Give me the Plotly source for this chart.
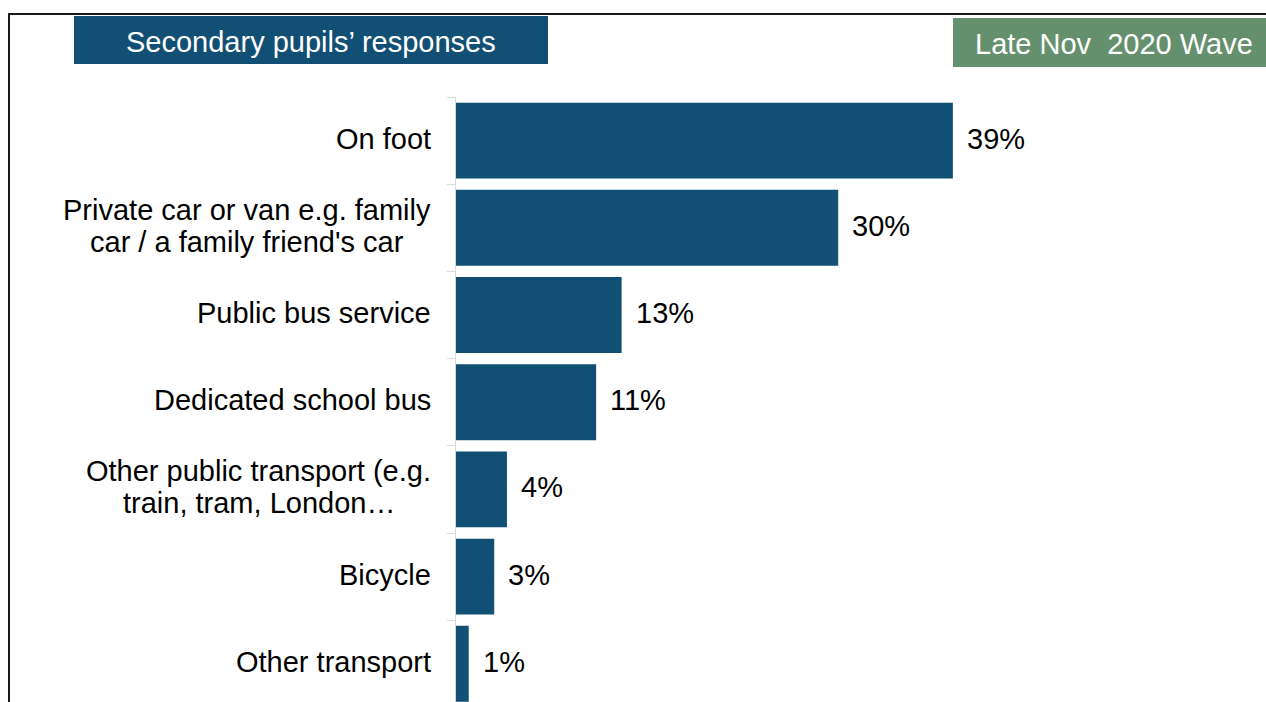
import plotly.graph_objects as go

# Survey data: how secondary pupils travel to school
categories = [
    "On foot",
    "Private car or van e.g. family\ncar / a family friend's car",
    "Public bus service",
    "Dedicated school bus",
    "Other public transport (e.g.\ntrain, tram, London…",
    "Bicycle",
    "Other transport",
]
values = [39, 30, 13, 11, 4, 3, 1]

panel_title = "Secondary pupils’ responses"
wave_label = "Late Nov\u00a0 2020 Wave"

BAR_BLUE = "#124F74"
WAVE_GREEN = "#65906E"
FONT = "Liberation Sans, Arial, sans-serif"
FONT_SIZE = 29
LINE_H = 32  # line pitch for wrapped category labels
LABEL_GAP = 25

# Advance widths (1/1000 em) of Liberation Sans, used to centre wrapped lines
ADV = {
    " ": 278, "'": 191, "(": 333, ",": 278, ".": 278, "/": 278, "…": 1000,
    "L": 556, "O": 778, "P": 667, "D": 722, "B": 667,
    "a": 556, "b": 556, "c": 500, "d": 556, "e": 556, "f": 278, "g": 556,
    "h": 556, "i": 222, "l": 222, "m": 833, "n": 556, "o": 556, "p": 556,
    "r": 333, "s": 500, "t": 278, "u": 556, "v": 500, "y": 500,
}


def text_width(s):
    return sum(ADV.get(ch, 556) for ch in s) * FONT_SIZE / 1000


W, H = 1266, 702
ML, MR, MT, MB = 456, 0, 97, 0
PW, PH = W - ML - MR, H - MT - MB


def px_x(px):
    return (px - ML) / PW


def px_y(py):
    return (H - MB - py) / PH


fig = go.Figure(
    go.Bar(
        x=values,
        y=categories,
        orientation="h",
        marker=dict(color=BAR_BLUE, line=dict(width=0)),
        hoverinfo="skip",
    )
)

annotations = []
# category labels: lines centred within the label block, block right-aligned to the axis
for cat in categories:
    lines = cat.split("\n")
    n = len(lines)
    block_w = max(text_width(s) for s in lines)
    for i, line in enumerate(lines):
        annotations.append(dict(
            x=0, y=cat, xref="x", yref="y",
            text=line,
            xanchor="center", yanchor="middle",
            xshift=-LABEL_GAP - block_w / 2,
            yshift=((n - 1) / 2 - i) * LINE_H + 2,
            showarrow=False,
            font=dict(family=FONT, size=FONT_SIZE, color="#000000"),
        ))
# value labels just past the bar ends
for cat, v in zip(categories, values):
    annotations.append(dict(
        x=v, y=cat, xref="x", yref="y",
        text=f"{v}%",
        xanchor="left", yanchor="middle",
        xshift=12, yshift=2, showarrow=False,
        font=dict(family=FONT, size=FONT_SIZE, color="#000000"),
    ))
# header box texts
annotations.append(dict(
    x=px_x(311), y=px_y(42), xref="paper", yref="paper",
    text=panel_title, showarrow=False,
    xanchor="center", yanchor="middle",
    font=dict(family=FONT, size=FONT_SIZE, color="#FFFFFF"),
))
annotations.append(dict(
    x=px_x(1114), y=px_y(44), xref="paper", yref="paper",
    text=wave_label, showarrow=False,
    xanchor="center", yanchor="middle",
    font=dict(family=FONT, size=FONT_SIZE, color="#FFFFFF"),
))

shapes = [
    # frame: left and top rules
    dict(type="line", xref="paper", yref="paper",
         x0=px_x(9), x1=px_x(9), y0=px_y(14), y1=px_y(710),
         line=dict(color="#1A1A1A", width=2)),
    dict(type="line", xref="paper", yref="paper",
         x0=px_x(8), x1=px_x(1270), y0=px_y(14), y1=px_y(14),
         line=dict(color="#1A1A1A", width=2)),
    # header boxes
    dict(type="rect", xref="paper", yref="paper",
         x0=px_x(74), x1=px_x(548), y0=px_y(16), y1=px_y(64),
         fillcolor=BAR_BLUE, line=dict(width=0), layer="below"),
    dict(type="rect", xref="paper", yref="paper",
         x0=px_x(953), x1=px_x(1270), y0=px_y(18), y1=px_y(67),
         fillcolor=WAVE_GREEN, line=dict(width=0), layer="below"),
]

band = 87.2
bottom_idx = -0.5 + (H - MB - MT) / band

fig.update_layout(
    width=W, height=H,
    margin=dict(l=ML, r=MR, t=MT, b=MB, pad=0),
    paper_bgcolor="#FFFFFF", plot_bgcolor="#FFFFFF",
    showlegend=False,
    bargap=0.13,
    xaxis=dict(range=[0, PW / 12.74], visible=False, fixedrange=True),
    yaxis=dict(
        type="category",
        categoryorder="array", categoryarray=categories,
        range=[bottom_idx, -0.5],
        showticklabels=False,
        showgrid=False, zeroline=False,
        showline=True, linecolor="#D9D9D9", linewidth=1,
        ticks="outside", tickson="boundaries",
        ticklen=8, tickcolor="#D9D9D9", tickwidth=1,
        fixedrange=True,
    ),
    annotations=annotations,
    shapes=shapes,
    font=dict(family=FONT),
)

fig.write_html("out.html")
